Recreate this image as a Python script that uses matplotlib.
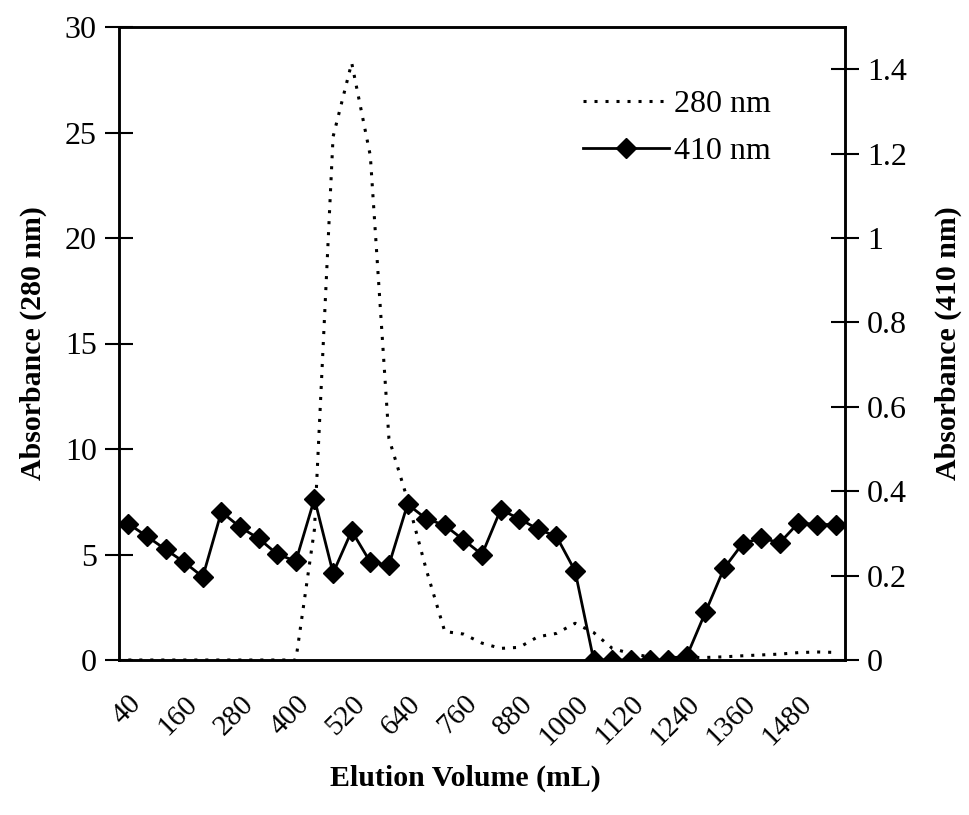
import matplotlib
matplotlib.use("Agg")
from matplotlib import pyplot as plt
import numpy as np

# Elution profile, fractions every 40 mL
volume = np.arange(40, 1561, 40)

abs_280 = [0, 0, 0, 0, 0, 0, 0, 0, 0, 0,
           6.2, 24.8, 28.3, 23.9, 10.5, 7.6, 4.3, 1.35, 1.23, 0.8,
           0.55, 0.6, 1.1, 1.26, 1.74, 1.3, 0.55, 0.3, 0.15, 0.12,
           0.12, 0.12, 0.15, 0.2, 0.24, 0.28, 0.35, 0.38, 0.36]

abs_410 = [0.323, 0.293, 0.262, 0.232, 0.197, 0.351, 0.315, 0.288, 0.251, 0.234,
           0.382, 0.206, 0.306, 0.232, 0.225, 0.369, 0.335, 0.319, 0.285, 0.250,
           0.356, 0.335, 0.310, 0.293, 0.211, 0.0, 0.0, 0.0, 0.0, 0.0,
           0.009, 0.113, 0.217, 0.276, 0.289, 0.278, 0.325, 0.321, 0.321]

xtick_vals = list(range(40, 1481, 120))

plt.rcParams["font.family"] = ["Liberation Serif", "DejaVu Serif"]
plt.rcParams["font.size"] = 22

fig = plt.figure(figsize=(9.7, 8.15), dpi=100)
ax = fig.add_axes([119 / 970, 1 - 660 / 815, (845 - 119) / 970, (660 - 27) / 815])
ax2 = ax.twinx()

l1, = ax.plot(volume, abs_280, color="black", linestyle=(0, (1, 2.6)),
              linewidth=2.2, label="280 nm")
l2, = ax2.plot(volume, abs_410, color="black", linestyle="-", linewidth=2,
               marker="D", markersize=10, label="410 nm")

ax.set_xlim(20, 1580)
ax.set_ylim(0, 30)
ax2.set_ylim(0, 1.5)
ax.set_yticks(range(0, 31, 5))
ax2.set_yticks([0, 0.2, 0.4, 0.6, 0.8, 1.0, 1.2, 1.4])
ax2.set_yticklabels(["0", "0.2", "0.4", "0.6", "0.8", "1", "1.2", "1.4"])

ax.set_xticks(xtick_vals)
ax.set_xticklabels([str(v) for v in xtick_vals], rotation=45, ha="right",
                   rotation_mode="anchor", fontsize=21)
ax.tick_params(axis="x", length=0, pad=22)
ax.tick_params(axis="y", direction="inout", length=20, width=1.5, pad=6,
               labelsize=23)
ax2.tick_params(axis="y", direction="inout", length=20, width=1.5, pad=6,
                labelsize=23)

for a in (ax, ax2):
    for s in a.spines.values():
        s.set_linewidth(1.8)

ax.set_xlabel("Elution Volume (mL)", fontweight="bold", fontsize=21.5)
ax.xaxis.set_label_coords(0.477, -0.165)
ax.set_ylabel("Absorbance (280 nm)", fontweight="bold", fontsize=21.5, labelpad=13)
ax2.set_ylabel("Absorbance (410 nm)", fontweight="bold", fontsize=21.5,
               rotation=90, labelpad=20)

fig.legend([l1, l2], ["280 nm", "410 nm"], loc="upper left",
           bbox_to_anchor=(583 / 970, 1 - 90 / 815), frameon=False,
           borderpad=0, borderaxespad=0, handlelength=2.7, handletextpad=0.15,
           labelspacing=0.55, fontsize=23)

fig.savefig("out.png", dpi=100)
